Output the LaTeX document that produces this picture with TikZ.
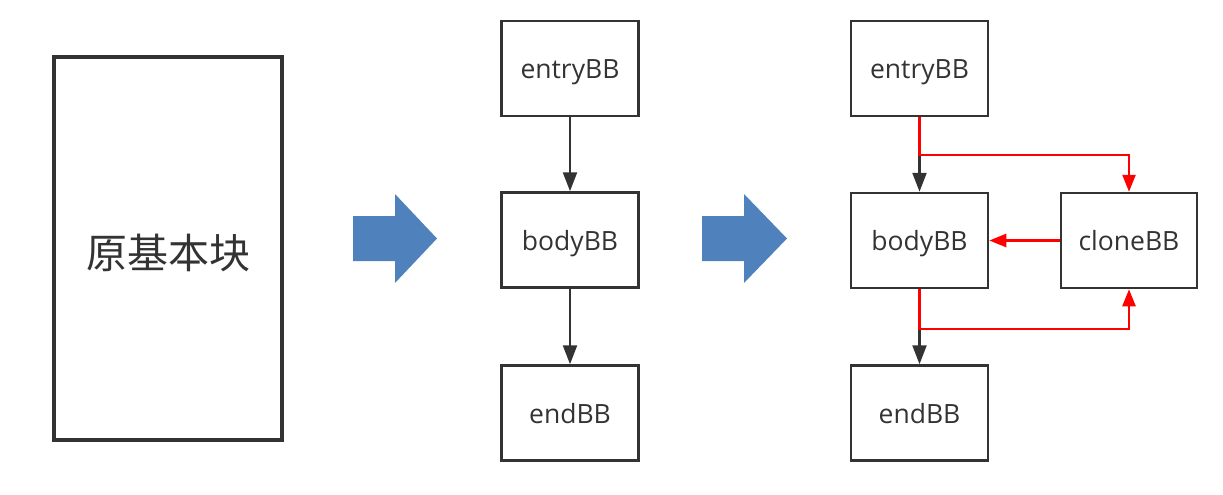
\documentclass[tikz,border=0pt]{standalone}
\usepackage{fontspec}
\setmainfont{Open Sans}
\newfontfamily\cjk{Noto Sans CJK SC}
\usetikzlibrary{arrows.meta}
\definecolor{dk}{HTML}{333333}
\definecolor{blk}{HTML}{4F81BD}
\definecolor{rd}{HTML}{FF0000}
\tikzset{
  bb/.style={draw=dk, line width=2.5pt, minimum width=137pt, minimum height=95pt, inner sep=0pt, text=dk, text height=20pt, text depth=0pt, font=\fontsize{26.5}{30}\selectfont},
  garrow/.style={draw=dk, line width=2.3pt, -{Triangle[length=19pt,width=14pt]}},
  rarrow/.style={draw=rd, line width=2.5pt, -{Triangle[length=17pt,width=13pt]}},
  bigarrow/.style={fill=blk, draw=none}
}
\begin{document}
\begin{tikzpicture}[x=1pt,y=-1pt]
\useasboundingbox (0,0) rectangle (1223,495);
% original block
\node[draw=dk, line width=3.5pt, minimum width=228pt, minimum height=383pt, inner sep=0pt, text=dk, text height=40pt, text depth=0pt, font=\cjk\fontsize{41}{46}\selectfont] (orig) at (168,248.5) {原基本块};
% blue arrows
\fill[bigarrow] (353,216) -- (395,216) -- (395,194) -- (437,238.5) -- (395,283) -- (395,261) -- (353,261) -- cycle;
\fill[bigarrow] (702,216) -- (744,216) -- (744,194) -- (787,238.5) -- (744,283) -- (744,261) -- (702,261) -- cycle;
% middle column
\node[bb] (e1) at (570,68.5) {entryBB};
\node[bb] (b1) at (570,240) {bodyBB};
\node[bb] (n1) at (570,413) {endBB};
\draw[garrow] (e1.south) -- (b1.north);
\draw[garrow] (b1.south) -- (n1.north);
% right column
\node[bb] (e2) at (919.5,68.5) {entryBB};
\node[bb] (b2) at (919.5,240.5) {bodyBB};
\node[bb] (n2) at (919.5,413) {endBB};
\node[bb, minimum width=136pt] (c2) at (1129,240.5) {cloneBB};
\draw[garrow] (e2.south) -- (b2.north);
\draw[garrow] (b2.south) -- (n2.north);
\draw[rarrow] (e2.south) -- (e2.south |- 0,155) -| (c2.north);
\draw[rarrow] (c2.west) -- (b2.east);
\draw[rarrow] (b2.south) -- (b2.south |- 0,329) -| (c2.south);
\end{tikzpicture}
\end{document}
